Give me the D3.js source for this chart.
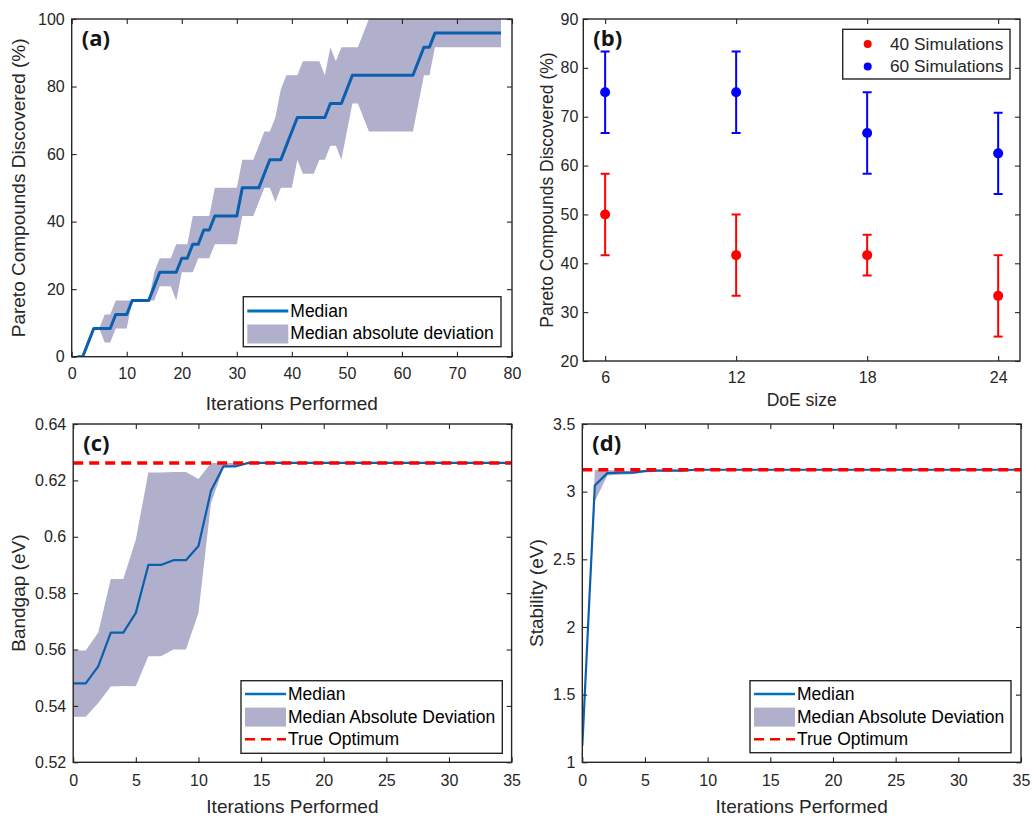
<!DOCTYPE html>
<html>
<head>
<meta charset="utf-8">
<script src="https://cdn.jsdelivr.net/npm/d3@7"></script>
<style>
  body { margin: 0; background: #fff; }
</style>
</head>
<body>
<svg id="fig"></svg>
<script>
// ---------- data ----------
// (a) pareto compounds discovered vs iterations
const ITER_A = d3.range(1, 79);
const MEDIAN_A = [
  0, 0, 4.17, 8.33, 8.33, 8.33, 8.33, 12.5, 12.5, 12.5,
  16.67, 16.67, 16.67, 16.67, 20.83, 25, 25, 25, 25, 29.17,
  29.17, 33.33, 33.33, 37.5, 37.5, 41.67, 41.67, 41.67, 41.67, 41.67,
  50, 50, 50, 50, 54.17, 58.33, 58.33, 58.33, 62.5, 66.67,
  70.83, 70.83, 70.83, 70.83, 70.83, 70.83, 75, 75, 75, 79.17,
  83.33, 83.33, 83.33, 83.33, 83.33, 83.33, 83.33, 83.33, 83.33, 83.33,
  83.33, 83.33, 87.5, 91.67, 91.67, 95.83, 95.83, 95.83, 95.83, 95.83,
  95.83, 95.83, 95.83, 95.83, 95.83, 95.83, 95.83, 95.83
];
const UPPER_A = [
  0, 0, 4.17, 8.33, 8.33, 12.5, 12.5, 16.67, 16.67, 16.67,
  16.67, 16.67, 16.67, 16.67, 25, 29.17, 29.17, 29.17, 33.33, 33.33,
  33.33, 41.67, 41.67, 41.67, 41.67, 50, 50, 50, 50, 50,
  58.33, 58.33, 58.33, 62.5, 66.67, 66.67, 70.83, 79.17, 83.33, 83.33,
  83.33, 87.5, 87.5, 87.5, 87.5, 83.33, 91.67, 87.5, 91.67, 91.67,
  91.67, 91.67, 95.83, 100, 100, 100, 100, 100, 100, 100,
  100, 100, 100, 100, 100, 100, 100, 100, 100, 100,
  100, 100, 100, 100, 100, 100, 100, 100
];
const LOWER_A = [
  0, 0, 4.17, 8.33, 8.33, 4.17, 4.17, 8.33, 8.33, 8.33,
  16.67, 16.67, 16.67, 16.67, 16.67, 20.83, 20.83, 20.83, 16.67, 25,
  25, 25, 29.17, 29.17, 29.17, 33.33, 33.33, 33.33, 33.33, 33.33,
  41.67, 41.67, 41.67, 45.83, 50, 50, 45.83, 50, 50, 50,
  58.33, 54.17, 54.17, 54.17, 58.33, 58.33, 62.5, 62.5, 58.33, 66.67,
  75, 75, 70.83, 66.67, 66.67, 66.67, 66.67, 66.67, 66.67, 66.67,
  66.67, 66.67, 75, 83.33, 83.33, 91.67, 91.67, 91.67, 91.67, 91.67,
  91.67, 91.67, 91.67, 91.67, 91.67, 91.67, 91.67, 91.67
];

// (b) DoE size comparison
const DOE_SIZES = [6, 12, 18, 24];
const SIM40_MEAN = [50, 41.67, 41.67, 33.33];
const SIM40_LOW = [41.67, 33.33, 37.5, 25];
const SIM40_HIGH = [58.33, 50, 45.83, 41.67];
const SIM60_MEAN = [75, 75, 66.67, 62.5];
const SIM60_LOW = [66.67, 66.67, 58.33, 54.17];
const SIM60_HIGH = [83.33, 83.33, 75, 70.83];

// (c) bandgap
const ITER_CD = d3.range(0, 36);
const MEDIAN_C = [
  0.548, 0.548, 0.554, 0.566, 0.566, 0.573, 0.590, 0.590, 0.5917, 0.5917,
  0.5967, 0.6163, 0.625, 0.625, 0.6262, 0.6262, 0.6262, 0.6262, 0.6262, 0.6262,
  0.6262, 0.6262, 0.6262, 0.6262, 0.6262, 0.6262, 0.6262, 0.6262, 0.6262, 0.6262,
  0.6262, 0.6262, 0.6262, 0.6262, 0.6262, 0.6262
];
const UPPER_C = [
  0.5597, 0.5597, 0.566, 0.585, 0.585, 0.599, 0.6228, 0.6228, 0.623, 0.623,
  0.6205, 0.6262, 0.6262, 0.6262, 0.6262, 0.6262, 0.6262, 0.6262, 0.6262, 0.6262,
  0.6262, 0.6262, 0.6262, 0.6262, 0.6262, 0.6262, 0.6262, 0.6262, 0.6262, 0.6262,
  0.6262, 0.6262, 0.6262, 0.6262, 0.6262, 0.6262
];
const LOWER_C = [
  0.5362, 0.5362, 0.541, 0.5469, 0.5471, 0.547, 0.5576, 0.5576, 0.56, 0.56,
  0.573, 0.612, 0.6245, 0.625, 0.6262, 0.6262, 0.6262, 0.6262, 0.6262, 0.6262,
  0.6262, 0.6262, 0.6262, 0.6262, 0.6262, 0.6262, 0.6262, 0.6262, 0.6262, 0.6262,
  0.6262, 0.6262, 0.6262, 0.6262, 0.6262, 0.6262
];
const TRUE_OPT_C = 0.6262;

// (d) stability
const MEDIAN_D = [
  1.12, 3.046, 3.137, 3.14, 3.14, 3.152, 3.155, 3.155, 3.155, 3.162,
  3.162, 3.162, 3.162, 3.162, 3.162, 3.162, 3.162, 3.162, 3.162, 3.162,
  3.162, 3.162, 3.162, 3.162, 3.162, 3.162, 3.162, 3.162, 3.162, 3.162,
  3.162, 3.162, 3.162, 3.162, 3.162, 3.162
];
const UPPER_D = [
  1.12, 3.162, 3.16, 3.155, 3.155, 3.162, 3.162, 3.162, 3.162, 3.162,
  3.162, 3.162, 3.162, 3.162, 3.162, 3.162, 3.162, 3.162, 3.162, 3.162,
  3.162, 3.162, 3.162, 3.162, 3.162, 3.162, 3.162, 3.162, 3.162, 3.162,
  3.162, 3.162, 3.162, 3.162, 3.162, 3.162
];
const LOWER_D = [
  1.12, 2.93, 3.12, 3.125, 3.128, 3.145, 3.15, 3.15, 3.15, 3.162,
  3.162, 3.162, 3.162, 3.162, 3.162, 3.162, 3.162, 3.162, 3.162, 3.162,
  3.162, 3.162, 3.162, 3.162, 3.162, 3.162, 3.162, 3.162, 3.162, 3.162,
  3.162, 3.162, 3.162, 3.162, 3.162, 3.162
];
const TRUE_OPT_D = 3.162;

// tick labels
const X_TICKS_A = [0, 10, 20, 30, 40, 50, 60, 70, 80];
const X_LABELS_A = ["0", "10", "20", "30", "40", "50", "60", "70", "80"];
const Y_TICKS_A = [0, 20, 40, 60, 80, 100];
const Y_LABELS_A = ["0", "20", "40", "60", "80", "100"];
const Y_TICKS_B = [20, 30, 40, 50, 60, 70, 80, 90];
const Y_LABELS_B = ["20", "30", "40", "50", "60", "70", "80", "90"];
const X_LABELS_B = ["6", "12", "18", "24"];
const X_TICKS_CD = [0, 5, 10, 15, 20, 25, 30, 35];
const X_LABELS_CD = ["0", "5", "10", "15", "20", "25", "30", "35"];
const Y_TICKS_C = [0.52, 0.54, 0.56, 0.58, 0.6, 0.62, 0.64];
const Y_LABELS_C = ["0.52", "0.54", "0.56", "0.58", "0.6", "0.62", "0.64"];
const Y_TICKS_D = [1, 1.5, 2, 2.5, 3, 3.5];
const Y_LABELS_D = ["1", "1.5", "2", "2.5", "3", "3.5"];

// ---------- styling ----------
const FONT = "'Liberation Sans', Arial, Helvetica, sans-serif";
const INK = "#262626";
const BAND = "#b0b0cc";
const BLUE = "#0b5fae";
const LEGEND_BLUE = "#0072bd";
const RED = "#ff0000";

const svg = d3.select("#fig").attr("width", 1032).attr("height", 816);

// set up a panel frame with scales and a clipped plotting group
const makeFrame = (p) => {
  const x = d3.scaleLinear().domain(p.xDomain).range([p.x0, p.x1]);
  const y = d3.scaleLinear().domain(p.yDomain).range([p.y1, p.y0]);
  const g = svg.append("g");
  g.append("clipPath")
    .attr("id", "clip-" + p.name)
    .append("rect")
    .attr("x", p.x0)
    .attr("y", p.y0)
    .attr("width", p.x1 - p.x0)
    .attr("height", p.y1 - p.y0);
  const plot = g.append("g").attr("clip-path", `url(#clip-${p.name})`);
  return { x, y, g, plot };
};

const styleAxis = (s) => {
  s.attr("font-family", FONT).attr("font-size", 16);
  s.select(".domain").remove();
  s.selectAll("line").attr("stroke", INK).attr("stroke-width", 1.1);
  s.selectAll("text").attr("fill", INK);
};

// box with inward ticks on all four sides
const drawAxes = (p, f) => {
  f.g.append("g")
    .attr("transform", `translate(0,${p.y1})`)
    .call(d3.axisBottom(f.x).tickValues(p.xTicks).tickFormat((d, i) => p.xLabels[i])
      .tickSizeInner(-5).tickSizeOuter(0).tickPadding(p.xPad))
    .call(styleAxis);
  f.g.append("g")
    .attr("transform", `translate(0,${p.y0})`)
    .call(d3.axisTop(f.x).tickValues(p.xTicks).tickFormat(() => "")
      .tickSizeInner(-5).tickSizeOuter(0))
    .call(styleAxis);
  f.g.append("g")
    .attr("transform", `translate(${p.x0},0)`)
    .call(d3.axisLeft(f.y).tickValues(p.yTicks).tickFormat((d, i) => p.yLabels[i])
      .tickSizeInner(-5).tickSizeOuter(0).tickPadding(p.yPad))
    .call(styleAxis);
  f.g.append("g")
    .attr("transform", `translate(${p.x1},0)`)
    .call(d3.axisRight(f.y).tickValues(p.yTicks).tickFormat(() => "")
      .tickSizeInner(-5).tickSizeOuter(0))
    .call(styleAxis);

  f.g.append("rect")
    .attr("x", p.x0).attr("y", p.y0)
    .attr("width", p.x1 - p.x0).attr("height", p.y1 - p.y0)
    .attr("fill", "none").attr("stroke", INK).attr("stroke-width", 1.4);

  // axis titles
  f.g.append("text")
    .attr("x", (p.x0 + p.x1) / 2)
    .attr("y", p.xTitleY)
    .attr("text-anchor", "middle")
    .attr("font-family", FONT).attr("font-size", p.titleSize).attr("fill", INK)
    .text(p.xTitle);
  f.g.append("text")
    .attr("transform", `translate(${p.yTitleX},${(p.y0 + p.y1) / 2}) rotate(-90)`)
    .attr("text-anchor", "middle")
    .attr("font-family", FONT).attr("font-size", p.titleSize).attr("fill", INK)
    .text(p.yTitle);

  // panel tag
  f.g.append("text")
    .attr("x", p.x0 + 10)
    .attr("y", p.y0 + 27)
    .attr("font-family", "'Open Sans', 'Noto Sans', sans-serif")
    .attr("font-weight", 700).attr("font-size", 22).attr("fill", "#141414")
    .text(p.tag);
};

// median + MAD band
const drawBand = (f, xs, med, lo, hi, lineWidth) => {
  const rows = xs.map((it, i) => ({ it, med: med[i], lo: lo[i], hi: hi[i] }));
  f.plot.append("path")
    .datum(rows)
    .attr("fill", BAND)
    .attr("d", d3.area().x((d) => f.x(d.it)).y0((d) => f.y(d.lo)).y1((d) => f.y(d.hi)));
  f.plot.append("path")
    .datum(rows)
    .attr("fill", "none")
    .attr("stroke", BLUE)
    .attr("stroke-width", lineWidth)
    .attr("stroke-linejoin", "round")
    .attr("d", d3.line().x((d) => f.x(d.it)).y((d) => f.y(d.med)));
};

const drawOptimum = (f, xDomain, value) => {
  f.plot.append("path")
    .datum(xDomain)
    .attr("fill", "none")
    .attr("stroke", RED)
    .attr("stroke-width", 3.5)
    .attr("stroke-dasharray", "10,6")
    .attr("d", d3.line().x((d) => f.x(d)).y(() => f.y(value)));
};

// legend for median/MAD(/optimum) panels
const drawBandLegend = (f, box, labels, withOpt) => {
  const lg = f.g.append("g").attr("transform", `translate(${box.x},${box.y})`);
  lg.append("rect")
    .attr("width", box.w).attr("height", box.h)
    .attr("fill", "#fff").attr("stroke", INK).attr("stroke-width", 1.4);
  const row = box.row;
  const y0 = box.first;
  lg.append("line")
    .attr("x1", 4).attr("x2", 45).attr("y1", y0).attr("y2", y0)
    .attr("stroke", LEGEND_BLUE).attr("stroke-width", box.lw);
  lg.append("rect")
    .attr("x", 4).attr("y", y0 + row - 9).attr("width", 41).attr("height", 19)
    .attr("fill", BAND);
  if (withOpt) {
    lg.append("line")
      .attr("x1", 4).attr("x2", 45).attr("y1", y0 + 2 * row).attr("y2", y0 + 2 * row)
      .attr("stroke", RED).attr("stroke-width", 2.5).attr("stroke-dasharray", "10,6");
  }
  lg.selectAll("text.lab")
    .data(labels)
    .enter()
    .append("text")
    .attr("class", "lab")
    .attr("x", 47)
    .attr("y", (d, i) => y0 + i * row + 6)
    .attr("font-family", FONT).attr("font-size", 17.5).attr("fill", "#000")
    .text((d) => d);
};

// ---------- panel (a) ----------
const PA = {
  name: "a", tag: "(a)",
  x0: 71.7, x1: 512, y0: 19, y1: 356.7,
  xDomain: [0, 80], yDomain: [0, 100],
  xTicks: X_TICKS_A, xLabels: X_LABELS_A, yTicks: Y_TICKS_A, yLabels: Y_LABELS_A,
  xPad: 11, yPad: 7, titleSize: 19,
  xTitle: "Iterations Performed", xTitleY: 410,
  yTitle: "Pareto Compounds Discovered (%)", yTitleX: 25,
};
const fa = makeFrame(PA);
drawBand(fa, ITER_A, MEDIAN_A, LOWER_A, UPPER_A, 3);
drawAxes(PA, fa);
drawBandLegend(fa, { x: 243.3, y: 296.7, w: 257.7, h: 50, first: 14.3, row: 22.5, lw: 3 },
  ["Median", "Median absolute deviation"], false);

// ---------- panel (b) ----------
const PB = {
  name: "b", tag: "(b)",
  x0: 583.3, x1: 1020, y0: 19, y1: 361,
  xDomain: [5, 25], yDomain: [20, 90],
  xTicks: DOE_SIZES, xLabels: X_LABELS_B, yTicks: Y_TICKS_B, yLabels: Y_LABELS_B,
  xPad: 11, yPad: 5, titleSize: 17.5,
  xTitle: "DoE size", xTitleY: 406,
  yTitle: "Pareto Compounds Discovered (%)", yTitleX: 553,
};
const fb = makeFrame(PB);
const seriesB = [
  { color: RED, mean: SIM40_MEAN, low: SIM40_LOW, high: SIM40_HIGH },
  { color: "#0000ff", mean: SIM60_MEAN, low: SIM60_LOW, high: SIM60_HIGH },
];
seriesB.forEach((s) => {
  const rows = DOE_SIZES.map((doe, i) => ({ doe, mean: s.mean[i], low: s.low[i], high: s.high[i] }));
  const eg = fb.plot.append("g").attr("stroke", s.color).attr("stroke-width", 2);
  eg.selectAll("line.v").data(rows).enter().append("line").attr("class", "v")
    .attr("x1", (d) => fb.x(d.doe)).attr("x2", (d) => fb.x(d.doe))
    .attr("y1", (d) => fb.y(d.low)).attr("y2", (d) => fb.y(d.high));
  eg.selectAll("line.lo").data(rows).enter().append("line").attr("class", "lo")
    .attr("x1", (d) => fb.x(d.doe) - 4.5).attr("x2", (d) => fb.x(d.doe) + 4.5)
    .attr("y1", (d) => fb.y(d.low)).attr("y2", (d) => fb.y(d.low));
  eg.selectAll("line.hi").data(rows).enter().append("line").attr("class", "hi")
    .attr("x1", (d) => fb.x(d.doe) - 4.5).attr("x2", (d) => fb.x(d.doe) + 4.5)
    .attr("y1", (d) => fb.y(d.high)).attr("y2", (d) => fb.y(d.high));
  fb.plot.selectAll(null).data(rows).enter().append("circle")
    .attr("cx", (d) => fb.x(d.doe)).attr("cy", (d) => fb.y(d.mean))
    .attr("r", 5).attr("fill", s.color);
});
drawAxes(PB, fb);
{
  const lg = fb.g.append("g").attr("transform", "translate(842.7,29.3)");
  lg.append("rect").attr("width", 167.3).attr("height", 49.7)
    .attr("fill", "#fff").attr("stroke", INK).attr("stroke-width", 1.4);
  const items = [["40 Simulations", RED], ["60 Simulations", "#0000ff"]];
  items.forEach(([label, color], i) => {
    lg.append("circle").attr("cx", 25).attr("cy", 14.7 + i * 22.5).attr("r", 4).attr("fill", color);
    lg.append("text").attr("x", 47.3).attr("y", 14.7 + i * 22.5 + 6)
      .attr("font-family", FONT).attr("font-size", 17.3).attr("fill", INK).text(label);
  });
}

// ---------- panel (c) ----------
const PC = {
  name: "c", tag: "(c)",
  x0: 73.2, x1: 511.6, y0: 424, y1: 762.3,
  xDomain: [0, 35], yDomain: [0.52, 0.64],
  xTicks: X_TICKS_CD, xLabels: X_LABELS_CD, yTicks: Y_TICKS_C, yLabels: Y_LABELS_C,
  xPad: 12, yPad: 7, titleSize: 19,
  xTitle: "Iterations Performed", xTitleY: 813,
  yTitle: "Bandgap (eV)", yTitleX: 25,
};
const fc = makeFrame(PC);
drawBand(fc, ITER_CD, MEDIAN_C, LOWER_C, UPPER_C, 2.2);
drawOptimum(fc, PC.xDomain, TRUE_OPT_C);
drawAxes(PC, fc);
drawBandLegend(fc, { x: 241, y: 680.7, w: 261.3, h: 72.6, first: 13.3, row: 22.6, lw: 2.5 },
  ["Median", "Median Absolute Deviation", "True Optimum"], true);

// ---------- panel (d) ----------
const PD = {
  name: "d", tag: "(d)",
  x0: 582.3, x1: 1021, y0: 424, y1: 762.3,
  xDomain: [0, 35], yDomain: [1, 3.5],
  xTicks: X_TICKS_CD, xLabels: X_LABELS_CD, yTicks: Y_TICKS_D, yLabels: Y_LABELS_D,
  xPad: 12, yPad: 7, titleSize: 19,
  xTitle: "Iterations Performed", xTitleY: 813,
  yTitle: "Stability (eV)", yTitleX: 543,
};
const fd = makeFrame(PD);
drawBand(fd, ITER_CD, MEDIAN_D, LOWER_D, UPPER_D, 2.2);
drawOptimum(fd, PD.xDomain, TRUE_OPT_D);
drawAxes(PD, fd);
drawBandLegend(fd, { x: 750, y: 680.7, w: 261, h: 72, first: 13.3, row: 22.6, lw: 2.5 },
  ["Median", "Median Absolute Deviation", "True Optimum"], true);
</script>
</body>
</html>
